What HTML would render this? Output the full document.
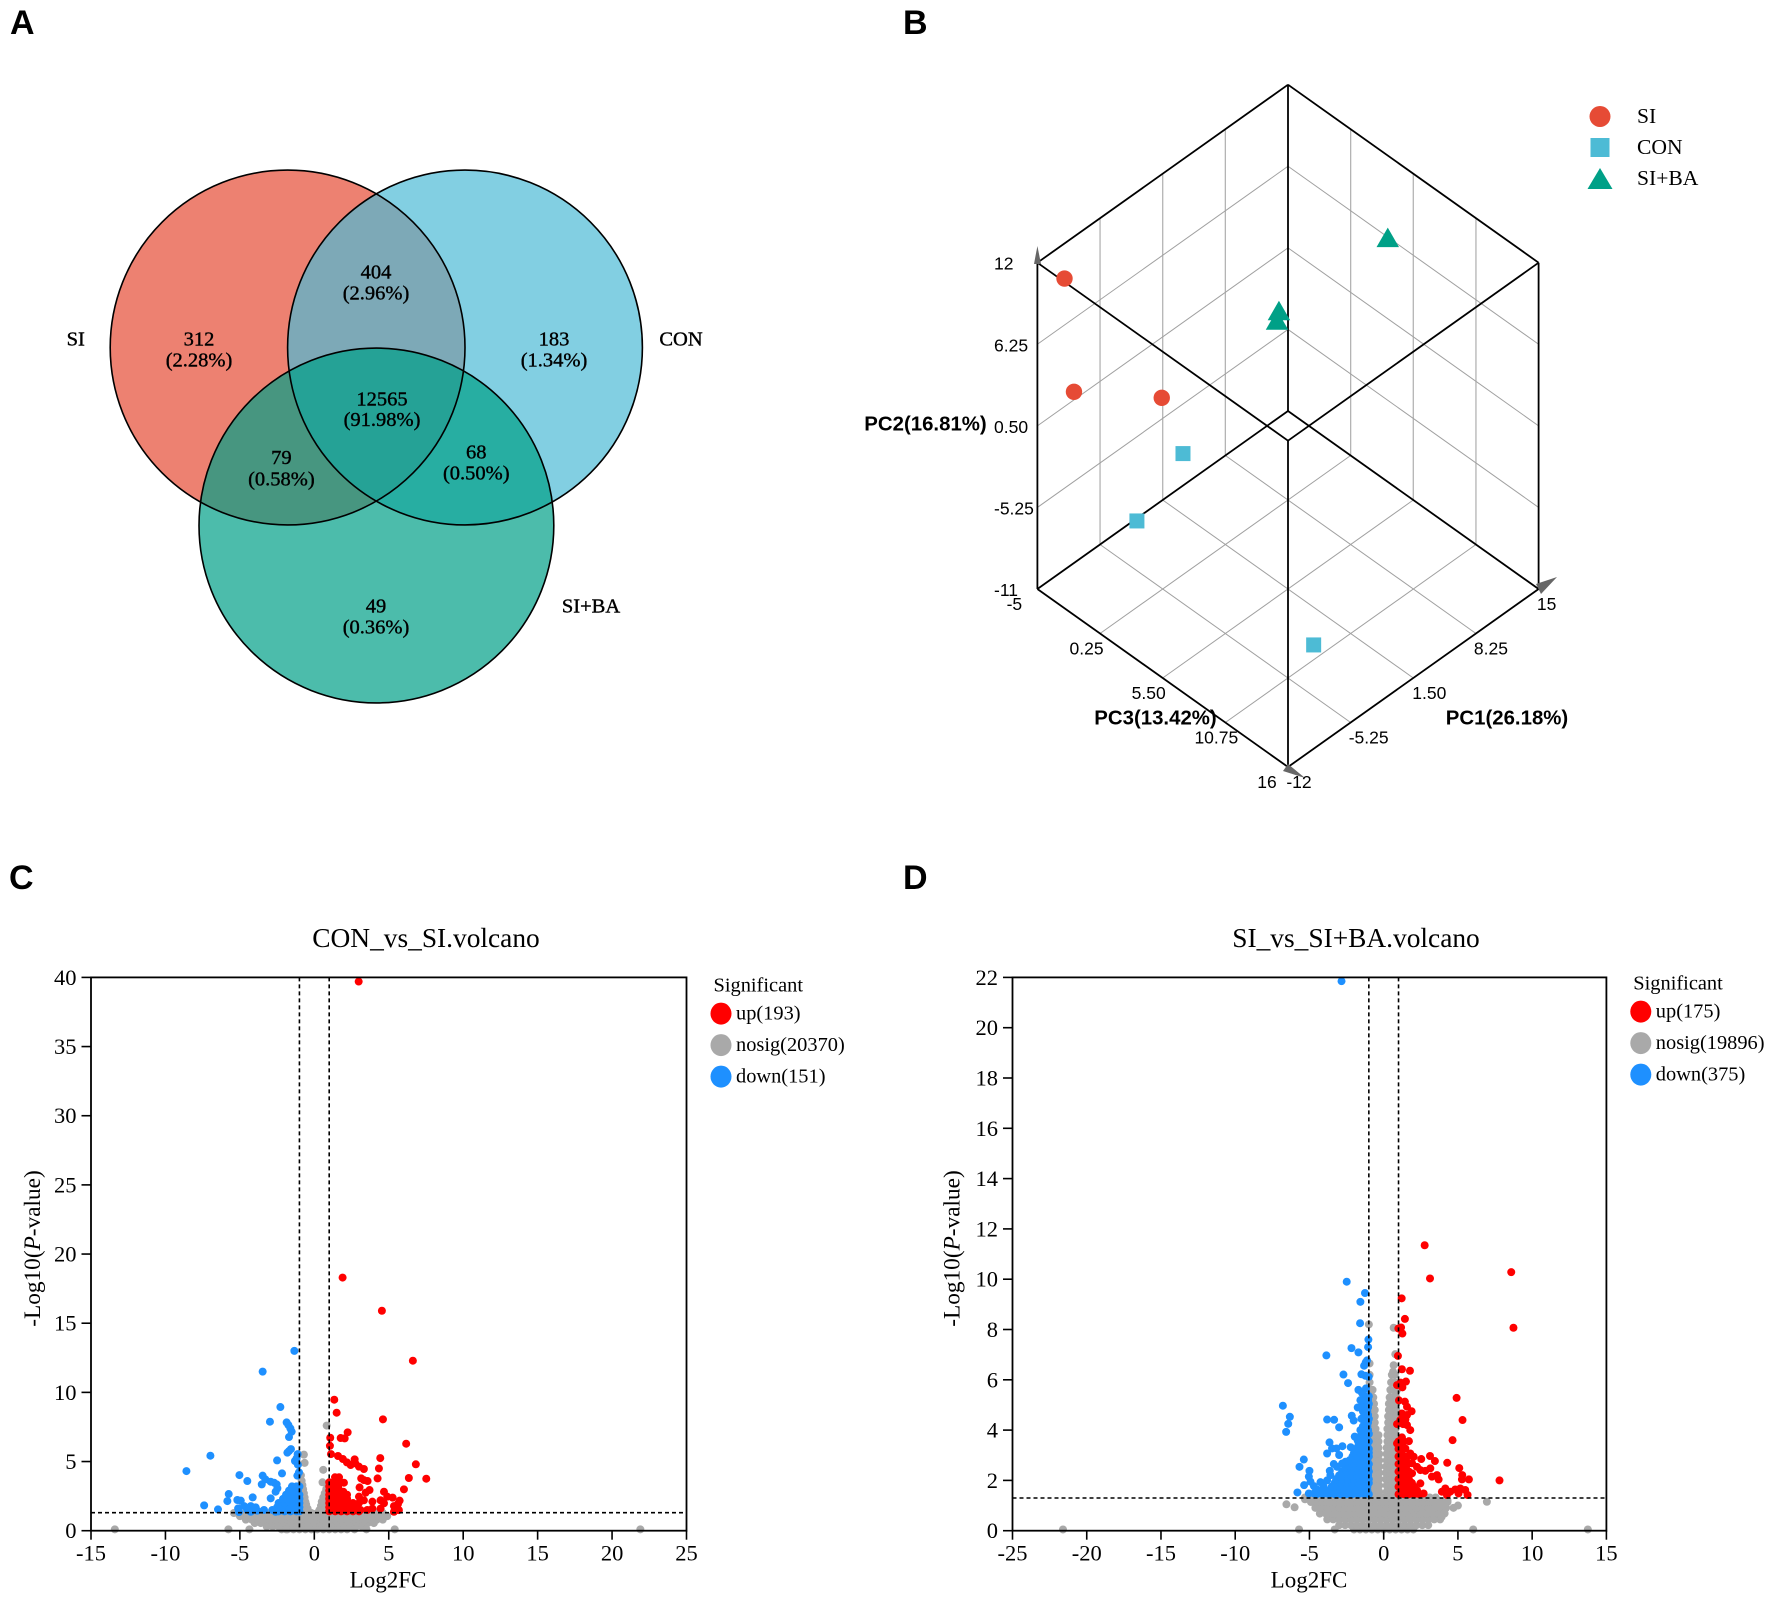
<!DOCTYPE html>
<html lang="en">
<head>
<meta charset="utf-8">
<title>Venn, PCA and volcano plots</title>
<style>
html,body{margin:0;padding:0;background:#fff;}
svg{display:block;}
text{font-family:"Liberation Serif",serif;fill:#000;}
.sans{font-family:"Liberation Sans",sans-serif;}
.panel{font-family:"Liberation Sans",sans-serif;font-weight:bold;font-size:34px;}
.vt{font-size:20.5px;text-anchor:middle;dominant-baseline:central;stroke:#000;stroke-width:.4px;}
</style>
</head>
<body>
<svg id="figure" xmlns="http://www.w3.org/2000/svg" width="1772" height="1601" viewBox="0 0 1772 1601">
<rect width="1772" height="1601" fill="#fff"/>
<text class="panel" x="10" y="34">A</text>
<text class="panel" x="903" y="34">B</text>
<text class="panel" x="9" y="889">C</text>
<text class="panel" x="903" y="889">D</text>

<g>
<circle cx="287.6" cy="347.5" r="177.4" fill="#E64B35" fill-opacity=".7"/>
<circle cx="465" cy="347.5" r="177.4" fill="#4DBBD5" fill-opacity=".7"/>
<circle cx="376.4" cy="525.5" r="177.4" fill="#00A087" fill-opacity=".7"/>
<g fill="none" stroke="#000" stroke-width="1.6">
<circle cx="287.6" cy="347.5" r="177.4"/>
<circle cx="465" cy="347.5" r="177.4"/>
<circle cx="376.4" cy="525.5" r="177.4"/>
</g>
<text class="vt" x="75.7" y="339.5">SI</text>
<text class="vt" x="681" y="339.5">CON</text>
<text class="vt" x="591" y="606.7">SI+BA</text>
<text class="vt" x="199" y="339.5">312</text>
<text class="vt" x="199" y="360.5">(2.28%)</text>
<text class="vt" x="376" y="272.4">404</text>
<text class="vt" x="376" y="293.5">(2.96%)</text>
<text class="vt" x="554" y="339.5">183</text>
<text class="vt" x="554" y="360.5">(1.34%)</text>
<text class="vt" x="382" y="399.4">12565</text>
<text class="vt" x="382" y="420">(91.98%)</text>
<text class="vt" x="281.4" y="458">79</text>
<text class="vt" x="281.4" y="479.5">(0.58%)</text>
<text class="vt" x="476.3" y="452.6">68</text>
<text class="vt" x="476.3" y="473.5">(0.50%)</text>
<text class="vt" x="376" y="606.7">49</text>
<text class="vt" x="376" y="627.5">(0.36%)</text>
</g>
<g id="pca"></g>
<g id="volcanoC"></g>
<g id="volcanoD"></g>
</svg>

<script>
/* ---------- PCA data ---------- */
const pc1Ticks = [-12, -5.25, 1.5, 8.25, 15];
const pc2Ticks = [-11, -5.25, 0.5, 6.25, 12];
const pc3Ticks = [-5, 0.25, 5.5, 10.75, 16];
const pcaSI   = [[-10.43, 10.71, -3.95], [-10.76, 3.51, -2.9], [-5.25, 2.36, 0.17]];
const pcaCON  = [[-5.25, -0.51, 1.95], [-9.3, -3.8, 1.24], [-3.9, -8.71, 11.85]];
const pcaSIBA = [[12.3, 8.64, 5.46], [4.2, 5.56, 2.64], [4.2, 4.8, 2.48]];

/* ---------- Volcano C data ---------- */
const cXTicks = [-15, -10, -5, 0, 5, 10, 15, 20, 25];
const cYTicks = [0, 5, 10, 15, 20, 25, 30, 35, 40];
const cLegendLabels = ['up(193)', 'nosig(20370)', 'down(151)'];
const cNosigRows = [
 [0.1,[-2.2,-1.8,-1.4,-1,-0.6,-0.2,0.2,0.6,1,1.4,1.8,2.2]],
 [0.3,[-3.2,-2.8,-2.4,-2,-1.6,-1.2,-0.8,-0.4,0,0.4,0.8,1.2,1.6,2,2.4,2.8,3.2]],
 [0.55,[-4,-3.6,-3.2,-2.8,-2.4,-2,-1.6,-1.2,-0.8,-0.4,0,0.4,0.8,1.2,1.6,2,2.4,2.8,3.2,3.6,4]],
 [0.8,[-4.6,-4.2,-3.8,-3.4,-3,-2.6,-2.2,-1.8,-1.4,-1,-0.6,-0.2,0.2,0.6,1,1.4,1.8,2.2,2.6,3,3.4,3.8,4.2,4.6]],
 [1.05,[-5,-4.6,-4.2,-3.8,-3.4,-3,-2.6,-2.2,-1.8,-1.4,-1,-0.6,-0.2,0.2,0.6,1,1.4,1.8,2.2,2.6,3,3.4,3.8,4.2,4.6,4.9]],
 [1.28,[-5.4,-5,-4.6,-4.2,-3.8,-3.4,-3,-2.6,-2.2,-1.8,-1.4,-1,-0.6,-0.2,0.2,0.6,1,1.4,1.8,2.2,2.6,3,3.4,3.8,4.2,4.6]]
];
const cNosigPoints = [[-5.77,0.1],[-4.36,0.1],[-1.9,0.1],[2.7,0.1],[3.5,0.1],[5.4,0.1],[-13.4,0.1],[21.9,0.1],
 [-0.9,4],[-0.85,3.6],[-0.8,3.3],[-0.75,3],[-0.7,2.7],[-0.65,2.4],[-0.6,2.1],[-0.55,1.9],[-0.45,1.6],[-0.4,1.4],[-0.9,3],[-0.9,2.5],[-0.9,2],[-0.9,1.6],[-0.7,1.5],[-0.7,2],
 [0.9,3.2],[0.8,3],[0.7,2.7],[0.6,2.4],[0.5,2.1],[0.45,1.8],[0.35,1.5],[0.9,2.5],[0.9,2],[0.9,1.6],[0.7,1.5],[0.7,2],[0.55,3.5],[0.6,4.4],[0.83,7.6],[-0.7,5.5],[-0.65,4.9]];
const cDownRows = [
 [1.4,[-2.4,-2,-1.6,-1.2,-1]],
 [1.7,[-2.5,-2.1,-1.7,-1.3,-1]],
 [2,[-2.4,-2,-1.6,-1.2,-1]],
 [2.3,[-2.1,-1.8,-1.4,-1]],
 [2.6,[-1.9,-1.6,-1.3,-1]],
 [2.9,[-1.7,-1.4,-1.1]],
 [3.2,[-1.5,-1.2,-1]]
];
const cDownPoints = [[-1.34,13],[-3.47,11.5],[-2.28,8.94],[-2.98,7.88],[-1.86,7.83],[-1.74,7.64],[-1.61,7.4],[-1.52,7.16],[-1.7,6.77],[-1.57,5.9],[-1.7,5.76],[-1.81,5.64],[-1.12,5.54],[-1.19,5.23],[-2.5,5.08],[-1.3,5.04],[-1.1,4.77],[-6.98,5.42],[-8.59,4.31],[-5.03,4.02],[-2.17,4.14],[-1.03,4.22],[-1.14,3.98],[-3.47,3.98],[-3.29,3.71],[-4.5,3.59],[-3.53,3.35],[-2.93,3.54],[-2.7,3.47],[-2.53,3.35],[-2.48,3.06],[-2.6,2.82],[-5.75,2.65],[-5.84,2.14],[-4.14,2.41],[-5.17,2.22],[-4.94,2.17],[-2.93,2.34],[-7.4,1.83],[-6.47,1.54],[-5.12,1.61],[-4.72,1.78],[-4.27,1.78],[-3.94,1.69],[-5.06,1.35],[-4.5,1.5],[-3.83,1.45],[-3.38,1.5],[-2.82,1.5],[-2.6,1.37],[-4.27,1.37]];
const cUpRows = [
 [1.4,[1,1.4,1.8,2.2,2.6,3]],
 [1.7,[1,1.4,1.8,2.2,2.6]],
 [2,[1,1.4,1.8,2.2,2.6,3]],
 [2.3,[1,1.4,1.8,2.2]],
 [2.6,[1,1.4,1.8,2.2]],
 [2.9,[1,1.3,1.7]],
 [3.2,[1,1.3,1.6]],
 [3.5,[1,1.3,1.6]]
];
const cUpPoints = [[2.98,39.7],[1.9,18.3],[4.54,15.9],[6.62,12.29],[4.61,8.05],[1.34,9.47],[1.5,8.53],[2.24,7.11],[1.77,6.7],[2.04,6.67],[1.07,6.72],[1.05,6.14],[6.17,6.29],[1.12,5.54],[1.59,5.4],[1.92,5.18],[2.19,4.94],[2.44,4.75],[2.71,5.16],[2.75,4.87],[3,4.63],[3.33,4.46],[4.43,5.25],[4.34,4.5],[6.82,4.8],[4.25,3.78],[6.35,3.81],[7.52,3.76],[3.15,3.78],[3.58,3.59],[3.33,3.66],[1.39,3.86],[1.66,3.86],[6.02,2.99],[3.04,3.13],[3.71,2.94],[3.45,2.75],[4.68,2.82],[4.9,2.46],[5.26,2.39],[5.73,2.17],[5.62,1.93],[5.35,1.78],[5.68,1.49],[5.35,1.37],[4.45,2.2],[3.9,2.1],[4.45,1.6],[4.68,1.98],[3.9,1.6],[3.56,1.5],[3.1,1.5],[2.77,1.73],[3.33,2.2],[3,2.46],[1.99,3.47],[1.66,2.94],[1.95,2.82]];

/* ---------- Volcano D data ---------- */
const dXTicks = [-25, -20, -15, -10, -5, 0, 5, 10, 15];
const dYTicks = [0, 2, 4, 6, 8, 10, 12, 14, 16, 18, 20, 22];
const dLegendLabels = ['up(175)', 'nosig(19896)', 'down(375)'];
const dNosigRows = [
 [0.05,[-2,-1.6,-1.2,-0.8,-0.4,0,0.4,0.8,1.2,1.6,2]],
 [0.22,[-3,-2.6,-2.2,-1.8,-1.4,-1,-0.6,-0.2,0.2,0.6,1,1.4,1.8,2.2,2.6,3]],
 [0.45,[-3.8,-3.4,-3,-2.6,-2.2,-1.8,-1.4,-1,-0.6,-0.2,0.2,0.6,1,1.4,1.8,2.2,2.6,3,3.4,3.8]],
 [0.68,[-4.3,-3.9,-3.5,-3.1,-2.7,-2.3,-1.9,-1.5,-1.1,-0.7,-0.3,0.1,0.5,0.9,1.3,1.7,2.1,2.5,2.9,3.3,3.7,4.1]],
 [0.91,[-4.6,-4.2,-3.8,-3.4,-3,-2.6,-2.2,-1.8,-1.4,-1,-0.6,-0.2,0.2,0.6,1,1.4,1.8,2.2,2.6,3,3.4,3.8,4.2,4.7]],
 [1.14,[-4.9,-4.5,-4.1,-3.7,-3.3,-2.9,-2.5,-2.1,-1.7,-1.3,-0.9,-0.5,-0.1,0.3,0.7,1.1,1.5,1.9,2.3,2.7,3.1,3.5,3.9,4.3]],
 [1.32,[-5.3,-4.9,-4.5,-4.1,-3.7,-3.3,-2.9,-2.5,-2.1,-1.7,-1.3,-0.9,-0.5,-0.1,0.3,0.7,1.1,1.5,1.9,2.3,2.7,3.1,3.5]],
 [1.55,[-0.9,-0.6,-0.3,0.2,0.5,0.8]],
 [1.8,[-0.9,-0.6,-0.3,0.2,0.5,0.8]],
 [2.05,[-0.9,-0.6,-0.3,0.15,0.45,0.8]],
 [2.3,[-0.9,-0.6,-0.3,0.15,0.45,0.8]],
 [2.55,[-0.8,-0.55,-0.3,0.15,0.45,0.8]],
 [2.8,[-0.8,-0.55,-0.3,0.2,0.5,0.8]],
 [3.05,[-0.8,-0.55,-0.3,0.2,0.5,0.8]],
 [3.3,[-0.8,-0.55,-0.35,0.2,0.5,0.8]],
 [3.55,[-0.8,-0.55,-0.35,0.25,0.5,0.8]],
 [3.8,[-0.8,-0.55,-0.35,0.25,0.5,0.8]],
 [4.05,[-0.8,-0.55,0.25,0.5,0.8]],
 [4.3,[-0.85,-0.6,0.3,0.55,0.85]],
 [4.55,[-0.85,-0.6,0.3,0.55,0.85]],
 [4.8,[-0.9,-0.6,0.35,0.6,0.85]],
 [5.05,[-0.9,-0.65,0.35,0.6,0.85]],
 [5.3,[-0.9,-0.7,0.4,0.65,0.85]],
 [5.6,[-0.9,-0.75,0.45,0.7,0.9]],
 [5.9,[-0.95,0.5,0.75]],
 [6.2,[-0.95,0.55,0.75]]
];
const dNosigPoints = [[-21.6,0.05],[13.75,0.05],[6.95,1.15],[-6.55,1.05],[-6,0.93],[-5.7,0.05],[-3.3,0.05],[6.03,0.05],[-5.3,1.25],[5,1],[4.3,1.2],[4.1,0.7],[3.9,0.55],[-1,8.2],[0.67,8.07],[0.78,7.02],[0.67,6.58],[0.63,6.32],[-0.95,6.65]];
const dDownRows = [
 [1.45,[-4.5,-4.1,-3.7,-3.3,-2.9,-2.5,-2.1,-1.7,-1.3,-1]],
 [1.6,[-4.3,-3.9,-3.5,-3.1,-2.7,-2.3,-1.9,-1.5,-1.1]],
 [1.75,[-3.5,-3.1,-2.7,-2.3,-1.9,-1.5,-1.1]],
 [1.9,[-3.3,-2.9,-2.5,-2.1,-1.7,-1.3,-1]],
 [2.05,[-3.2,-2.8,-2.4,-2,-1.6,-1.2,-1]],
 [2.2,[-3,-2.6,-2.2,-1.8,-1.4,-1.05]],
 [2.35,[-2.8,-2.5,-2.1,-1.7,-1.3,-1]],
 [2.5,[-2.6,-2.2,-1.8,-1.4,-1.05]],
 [2.65,[-2.4,-2,-1.6,-1.2,-1]],
 [2.8,[-2.3,-1.9,-1.5,-1.1]],
 [2.95,[-2.1,-1.8,-1.4,-1]],
 [3.1,[-2,-1.6,-1.3,-1]],
 [3.25,[-1.9,-1.5,-1.2,-1]],
 [3.4,[-1.7,-1.4,-1.1]],
 [3.55,[-1.6,-1.3,-1]],
 [3.7,[-1.45,-1.15]],
 [3.85,[-1.5,-1.2,-1]],
 [4,[-1.35,-1.05]],
 [4.15,[-1.4,-1.1]],
 [4.3,[-1.3,-1.05]],
 [4.45,[-1.5,-1.2,-1]],
 [4.6,[-1.3,-1.05]],
 [4.75,[-1.4,-1.1]],
 [4.9,[-1.25,-1.05]],
 [5.05,[-1.4,-1.1,-1]],
 [5.2,[-1.2,-1.05]],
 [5.35,[-1.2,-1]]
];
const dDownPoints = [[-2.84,21.85],[-2.49,9.9],[-1.26,9.45],[-1.57,9.1],[-1.59,8.25],[-1.03,7.6],[-1.05,7.3],[-2.17,7.26],[-1.7,7.09],[-3.86,6.97],[-1.12,6.77],[-1.21,6.69],[-1.32,6.56],[-2.71,6.21],[-1.5,6.22],[-1.23,6.16],[-1.01,6.12],[-2.4,5.87],[-1.7,5.6],[-1.46,5.48],[-1.19,5.66],[-6.79,4.97],[-6.32,4.53],[-6.43,4.25],[-6.57,3.93],[-3.81,4.42],[-3.34,4.41],[-3,4.11],[-2.15,4.57],[-2.02,4.38],[-1.75,4.9],[-1.57,5.19],[-1.57,4],[-1.95,3.74],[-1.75,3.58],[-3.65,3.51],[-3.48,3.27],[-3.18,3.27],[-2.78,3.36],[-2.22,3.32],[-3.81,3.07],[-3,3.01],[-5.38,2.83],[-5.67,2.54],[-5,2.38],[-3.36,2.65],[-2.58,2.74],[-3.63,2.38],[-5.04,2.15],[-4.93,1.95],[-5.36,1.81],[-4.7,1.77],[-4.26,1.93],[-5.81,1.52],[-5.04,1.48],[-3.81,2],[-3.59,2.21],[-3.14,2.54],[-2.8,2.67],[-4.48,1.64],[-4.04,1.75],[-4.7,1.48],[-4.15,1.48],[-3.36,1.75],[-2.9,2.15]];
const dUpRows = [
 [1.45,[1,1.35,1.7,2.05,2.4]],
 [1.6,[1.2,1.55,1.9,2.25]],
 [1.75,[1,1.35,1.7,2.05]],
 [1.9,[1.2,1.55,1.9]],
 [2.05,[1,1.35,1.7]],
 [2.2,[1.2,1.55]],
 [2.35,[1,1.35,1.7]],
 [2.5,[1.2,1.5]],
 [2.65,[1,1.35,1.6]],
 [2.8,[1.2,1.5]],
 [2.95,[1,1.35,1.6]],
 [3.1,[1.2]],
 [3.25,[1,1.35]],
 [3.4,[1.2]],
 [3.55,[1,1.35]]
];
const dUpPoints = [[2.76,11.35],[3.12,10.03],[8.59,10.28],[8.74,8.07],[1.21,9.24],[1.43,8.42],[1.17,8.08],[0.99,8.04],[1.26,7.84],[0.96,6.95],[1.23,6.42],[1.77,6.36],[1.5,5.93],[1.14,5.89],[0.9,5.79],[1.26,5.7],[4.91,5.28],[5.31,4.4],[1.03,5.18],[1.43,5.13],[1.57,4.93],[1.88,4.75],[1.23,4.66],[1.57,4.6],[1.12,4.4],[1.46,4.42],[0.9,4.24],[1.3,4.24],[1.57,4.2],[1.79,4],[4.64,3.6],[1.23,3.71],[1.7,3.56],[0.9,3.47],[1.23,3.47],[1.46,3.27],[1.79,3.07],[2.02,2.94],[2.53,2.85],[3.12,2.97],[3.45,2.77],[4.28,2.7],[5.09,2.49],[5.29,2.21],[5.74,2.04],[5.27,2.04],[7.8,2],[3.14,2.48],[2.8,2.38],[3.59,2.21],[3.25,2.15],[3.7,2.04],[2.47,2.41],[2.24,2.54],[1.91,2.68],[2.47,1.88],[1.91,2.28],[3.92,1.55],[4.15,1.68],[4.48,1.55],[4.82,1.64],[5.16,1.68],[5.49,1.62],[5.65,1.42],[5.04,1.48],[4.26,1.42],[2.69,1.48],[2.24,1.48]];

/* ---------- helpers ---------- */
const NS = 'http://www.w3.org/2000/svg';
function mk(parent, tag, attrs, txt) {
  const el = document.createElementNS(NS, tag);
  for (const k in attrs) el.setAttribute(k, attrs[k]);
  if (txt !== undefined) el.textContent = txt;
  parent.appendChild(el);
  return el;
}

/* ---------- PCA ---------- */
(function () {
  const g = document.getElementById('pca');
  const first = a => a[0], last = a => a[a.length - 1];
  function proj(p1, p2, p3) {
    const u = (p1 - first(pc1Ticks)) / (last(pc1Ticks) - first(pc1Ticks));
    const w = (p2 - first(pc2Ticks)) / (last(pc2Ticks) - first(pc2Ticks));
    const v = (p3 - first(pc3Ticks)) / (last(pc3Ticks) - first(pc3Ticks));
    return [1037.4 + 250.6 * (u + v), 589 - 178 * u + 178 * v - 326.3 * w];
  }
  const a0 = first(pc1Ticks), a1 = last(pc1Ticks), b0 = first(pc2Ticks), b1 = last(pc2Ticks), c0 = first(pc3Ticks), c1 = last(pc3Ticks);
  function seg(P, Q, stroke, w, name) {
    const A = proj(P[0], P[1], P[2]), B = proj(Q[0], Q[1], Q[2]);
    const el = mk(g, 'line', { x1: A[0], y1: A[1], x2: B[0], y2: B[1], stroke: stroke, 'stroke-width': w });
    
    
  }
  const inner = a => a.slice(1, -1);
  inner(pc1Ticks).forEach(t => { seg([t, b0, c0], [t, b1, c0], '#b4b4b4', 1.3, 'pca-grid-line'); seg([t, b0, c0], [t, b0, c1], '#a0a0a0', 1, 'pca-grid-line'); });
  inner(pc3Ticks).forEach(t => { seg([a1, b0, t], [a1, b1, t], '#b4b4b4', 1.3, 'pca-grid-line'); seg([a0, b0, t], [a1, b0, t], '#a0a0a0', 1, 'pca-grid-line'); });
  inner(pc2Ticks).forEach(t => { seg([a0, t, c0], [a1, t, c0], '#a0a0a0', 1, 'pca-grid-line'); seg([a1, t, c0], [a1, t, c1], '#a0a0a0', 1, 'pca-grid-line'); });
  [
    [[a1,b1,c0],[a0,b1,c0]], [[a1,b1,c0],[a1,b1,c1]], [[a1,b1,c0],[a1,b0,c0]],
    [[a0,b1,c0],[a0,b0,c0]], [[a1,b1,c1],[a1,b0,c1]],
    [[a0,b0,c0],[a0,b0,c1]], [[a1,b0,c1],[a0,b0,c1]],
    [[a0,b0,c0],[a1,b0,c0]], [[a1,b0,c0],[a1,b0,c1]],
    [[a0,b1,c1],[a0,b1,c0]], [[a0,b1,c1],[a1,b1,c1]], [[a0,b1,c1],[a0,b0,c1]]
  ].forEach(e => seg(e[0], e[1], '#000', 1.8, 'pca-box-edge'));

  [['1037.4,246 1034,264 1041,264','pca-arrow-pc2'],['1557,577 1536,584 1541,594','pca-arrow-pc1'],['1305,778 1288,764 1283,771','pca-arrow-pc3']].forEach(a => {
    const el = mk(g, 'polygon', { points: a[0], fill: '#666' });
    
    
  });

  function label(txt, x, y, size, bold, name, anchor) {
    const el = mk(g, 'text', { x: x, y: y, 'text-anchor': anchor || 'middle', 'dominant-baseline': 'central', class: 'sans', 'font-size': size, 'font-weight': bold ? 'bold' : 'normal' }, txt);
    
    
  }
  const fmt = t => Number.isInteger(t) ? String(t) : t.toFixed(2);
  pc2Ticks.forEach(t => {
    const p = proj(a0, t, c0);
    label(fmt(t), 994, p[1] + 1, 17.5, false, 'pc2-tick-label', 'start');
  });
  const pc3LabelDx = [-23, -13.5, -14, -9, -21];
  pc3Ticks.forEach((t, i) => {
    const p = proj(a0, b0, t);
    label(fmt(t), p[0] + pc3LabelDx[i], p[1] + 15, 17.5, false, 'pc3-tick-label');
  });
  const pc1LabelDx = [11, 18, 16, 15, 8];
  pc1Ticks.forEach((t, i) => {
    const p = proj(t, b0, c1);
    label(fmt(t), p[0] + pc1LabelDx[i], p[1] + 15, 17.5, false, 'pc1-tick-label');
  });
  label('PC2(16.81%)', 925.5, 424.5, 20.4, true, 'pc2-axis-title');
  label('PC3(13.42%)', 1155.5, 718.5, 20.4, true, 'pc3-axis-title');
  label('PC1(26.18%)', 1507, 718.5, 20.4, true, 'pc1-axis-title');

  const C = { si: '#E64B35', con: '#4DBBD5', ba: '#00A087' };
  function tri(cx, cy, w, h, fill, name) {
    const el = mk(g, 'polygon', { points: (cx) + ',' + (cy - h / 2) + ' ' + (cx - w / 2) + ',' + (cy + h / 2) + ' ' + (cx + w / 2) + ',' + (cy + h / 2), fill: fill });
    
    
  }
  function sq(cx, cy, s, fill, name) {
    const el = mk(g, 'rect', { x: cx - s / 2, y: cy - s / 2, width: s, height: s, fill: fill });
    
    
  }
  function circ(cx, cy, r, fill, name) {
    const el = mk(g, 'circle', { cx: cx, cy: cy, r: r, fill: fill });
    
    
  }
  pcaSI.forEach(d => { const p = proj(d[0], d[1], d[2]); circ(p[0], p[1] - 1, 8.2, C.si, 'pca-point-si'); });
  pcaCON.forEach(d => { const p = proj(d[0], d[1], d[2]); sq(p[0], p[1] - 1, 15, C.con, 'pca-point-con'); });
  pcaSIBA.forEach(d => { const p = proj(d[0], d[1], d[2]); tri(p[0], p[1] - 1.5, 22.5, 19.5, C.ba, 'pca-point-si-ba'); });

  circ(1600, 116.5, 10.5, C.si, 'pca-legend-marker-si');
  sq(1600, 147.5, 19, C.con, 'pca-legend-marker-con');
  tri(1600, 178.5, 25, 21, C.ba, 'pca-legend-marker-si-ba');
  [['SI', 116, 'pca-legend-label-si'], ['CON', 147, 'pca-legend-label-con'], ['SI+BA', 178, 'pca-legend-label-si-ba']].forEach(l => {
    const el = mk(g, 'text', { x: 1637, y: l[1], 'dominant-baseline': 'central', 'font-size': 21.6 }, l[0]);
    
    
  });
})();

/* ---------- Volcano ---------- */
function expandRows(rows) {
  const out = [];
  rows.forEach(r => r[1].forEach(x => out.push([x, r[0]])));
  return out;
}
function drawVolcano(g, o) {
  const L = o.left, R = o.right, T = 977.4, B = 1530.7;
  const xd0 = o.xTicks[0], xd1 = o.xTicks[o.xTicks.length - 1];
  const yd0 = o.yTicks[0], yd1 = o.yTicks[o.yTicks.length - 1];
  const sx = v => L + (v - xd0) / (xd1 - xd0) * (R - L);
  const sy = v => B - (v - yd0) / (yd1 - yd0) * (B - T);

  function dots(pts, color, name) {
    pts.forEach(d => {
      const el = mk(g, 'circle', { cx: sx(d[0]), cy: sy(d[1]), r: 4, fill: color });
      
      
    });
  }
  dots(o.nosig, '#A9A9A9', 'nosig-point');
  dots(o.down, '#1E90FF', 'down-point');
  dots(o.up, '#FF0000', 'up-point');

  [[sx(-1), T, sx(-1), B, 'fold-change-threshold-low'], [sx(1), T, sx(1), B, 'fold-change-threshold-high'], [L, sy(1.3), R, sy(1.3), 'p-value-threshold']].forEach(l => {
    const el = mk(g, 'line', { x1: l[0], y1: l[1], x2: l[2], y2: l[3], stroke: '#000', 'stroke-width': 1.6, 'stroke-dasharray': '4 3' });
    
    
  });

  const frame = mk(g, 'rect', { x: L, y: T, width: R - L, height: B - T, fill: 'none', stroke: '#000', 'stroke-width': 1.8 });
  
  

  o.xTicks.forEach(t => {
    const tick = mk(g, 'line', { x1: sx(t), y1: B, x2: sx(t), y2: B + 9, stroke: '#000', 'stroke-width': 1.6 });
    
    
    const lab = mk(g, 'text', { x: sx(t), y: 1553, 'text-anchor': 'middle', 'dominant-baseline': 'central', 'font-size': 22.5 }, String(t));
    
    
  });
  o.yTicks.forEach(t => {
    const tick = mk(g, 'line', { x1: L - 9.5, y1: sy(t), x2: L, y2: sy(t), stroke: '#000', 'stroke-width': 1.6 });
    
    
    const lab = mk(g, 'text', { x: L - 14.5, y: sy(t), 'text-anchor': 'end', 'dominant-baseline': 'central', 'font-size': 22.5 }, String(t));
    
    
  });

  const title = mk(g, 'text', { x: o.titleX, y: 938, 'text-anchor': 'middle', 'dominant-baseline': 'central', 'font-size': 27.4 }, o.title);
  
  

  const xt = mk(g, 'text', { x: o.xTitleX, y: 1580, 'text-anchor': 'middle', 'dominant-baseline': 'central', 'font-size': 23 }, 'Log2FC');
  
  

  const yt = mk(g, 'text', { transform: 'translate(' + o.yTitleX + ',1248.5) rotate(-90)', 'text-anchor': 'middle', 'dominant-baseline': 'central', 'font-size': 23.3 });
  
  
  mk(yt, 'tspan', {}, '-Log10(');
  mk(yt, 'tspan', { 'font-style': 'italic' }, 'P');
  mk(yt, 'tspan', {}, '-value)');

  const lt = mk(g, 'text', { x: o.legendX - 7.5, y: o.legendY, 'dominant-baseline': 'central', 'font-size': 20.4 }, 'Significant');
  
  
  const legendColors = ['#FF0000', '#A9A9A9', '#1E90FF'];
  o.legend.forEach((txt, i) => {
    const y = o.legendY + 28 + i * 31.5;
    const c = mk(g, 'ellipse', { cx: o.legendX, cy: y, rx: 10.5, ry: 11, fill: legendColors[i] });
    
    
    const t = mk(g, 'text', { x: o.legendX + 15, y: y, 'dominant-baseline': 'central', 'font-size': 20.4 }, txt);
    
    
  });
}

drawVolcano(document.getElementById('volcanoC'), {
  left: 91, right: 686.5, xTicks: cXTicks, yTicks: cYTicks,
  nosig: expandRows(cNosigRows).concat(cNosigPoints),
  down: expandRows(cDownRows).concat(cDownPoints),
  up: expandRows(cUpRows).concat(cUpPoints),
  title: 'CON_vs_SI.volcano', titleX: 426, xTitleX: 388, yTitleX: 33,
  legend: cLegendLabels, legendX: 721, legendY: 985.6
});
drawVolcano(document.getElementById('volcanoD'), {
  left: 1012.5, right: 1606.4, xTicks: dXTicks, yTicks: dYTicks,
  nosig: expandRows(dNosigRows).concat(dNosigPoints),
  down: expandRows(dDownRows).concat(dDownPoints),
  up: expandRows(dUpRows).concat(dUpPoints),
  title: 'SI_vs_SI+BA.volcano', titleX: 1356, xTitleX: 1309, yTitleX: 952.7,
  legend: dLegendLabels, legendX: 1640.8, legendY: 983.6
});
</script>
</body>
</html>
